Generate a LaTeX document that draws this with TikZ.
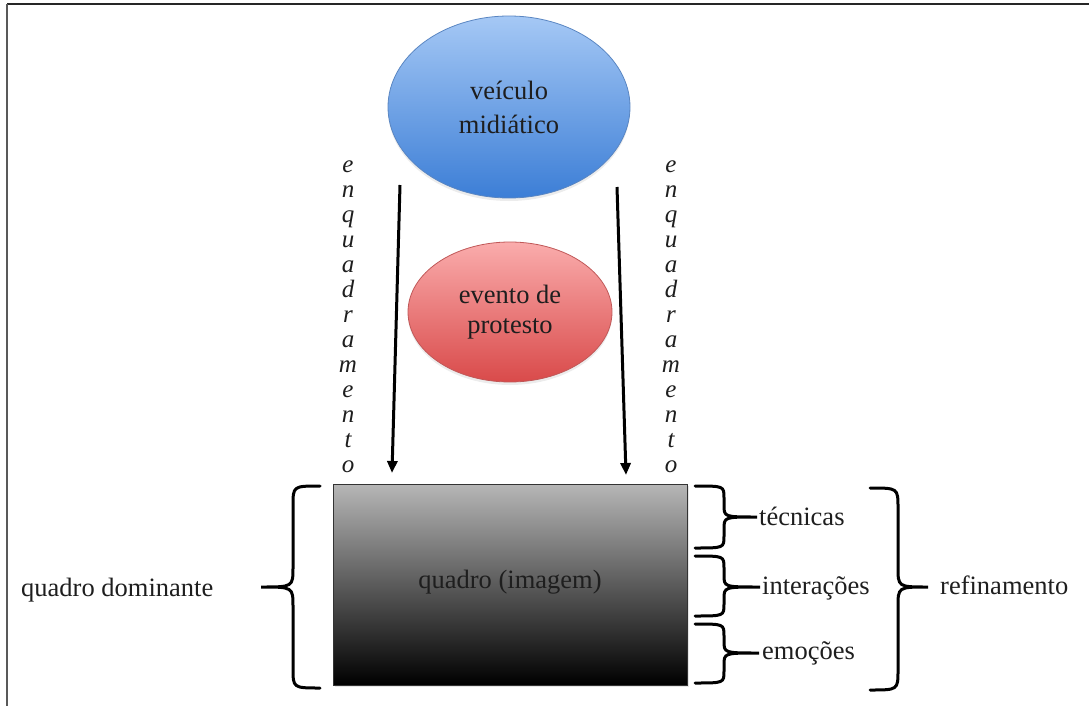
\documentclass[tikz,border=0pt]{standalone}
\usepackage{fontspec}
\setmainfont{Liberation Serif}
\usetikzlibrary{arrows.meta,shapes.geometric,shadows}
\definecolor{bluetop}{HTML}{A5C8F5}
\definecolor{bluebot}{HTML}{3C7ED6}
\definecolor{blueedge}{HTML}{5A86C2}
\definecolor{redtop}{HTML}{FAACAC}
\definecolor{redbot}{HTML}{D94A4A}
\definecolor{rededge}{HTML}{C05858}
\definecolor{txt}{HTML}{1E1E1E}
\definecolor{boxtop}{HTML}{B6B6B6}
\newcommand{\mycurly}[7]{% xe, xs, xt, y1, ym, y2, r
  \draw[bracestyle] (#1,#4) .. controls (#2,#4) and (#2,#4) .. (#2,#4+#7)
    -- (#2,#5-#7) .. controls (#2,#5) and (#2,#5) .. (#3,#5)
    .. controls (#2,#5) and (#2,#5) .. (#2,#5+#7)
    -- (#2,#6-#7) .. controls (#2,#6) and (#2,#6) .. (#1,#6);}
\tikzset{
  lbl/.style={inner sep=0pt, text=txt, font=\fontsize{26.5}{32}\selectfont},
  letter/.style={inner sep=0pt, anchor=base, text=txt, font=\fontsize{25}{25}\selectfont\itshape},
  bracestyle/.style={line width=3pt, black, line cap=round},
  arr/.style={line width=3pt, black, -{Triangle[length=12pt,width=10pt]}},
  frameline/.style={line width=2pt}
}
\begin{document}
\begin{tikzpicture}[x=1pt,y=-1pt]
\useasboundingbox (0,0) rectangle (1089,706);
% frame
\draw[frameline, black!85] (7,4) -- (1089,4);
\draw[frameline, black!65] (7,4) -- (7,706);
% ellipses
\node[ellipse, draw=blueedge, line width=0.8pt, top color=bluetop, bottom color=bluebot,
      minimum width=242pt, minimum height=182pt, inner sep=0pt, align=center,
      drop shadow={opacity=0.15, shadow xshift=0pt, shadow yshift=-3pt},
      text=txt, font=\fontsize{26.5}{34}\selectfont] (veiculo) at (509,107) {veículo\\midiático};
\node[ellipse, draw=rededge, line width=0.8pt, top color=redtop, bottom color=redbot,
      minimum width=204pt, minimum height=140pt, inner sep=0pt, align=center,
      drop shadow={opacity=0.15, shadow xshift=0pt, shadow yshift=-3pt},
      text=txt, font=\fontsize{26.5}{30}\selectfont] (evento) at (510,312) {evento de\\protesto};
% box
\node[rectangle, draw=black!80, line width=0.8pt, top color=boxtop, bottom color=black,
      minimum width=354pt, minimum height=201pt, inner sep=0pt,
      drop shadow={opacity=0.2, shadow xshift=2pt, shadow yshift=-2pt},
      text=txt, font=\fontsize{26.5}{32}\selectfont, text depth=10pt] (quadro) at (510,584.5) {quadro (imagem)};
% arrows
\coordinate (a1s) at (400,185);
\coordinate (a1e) at (392,473);
\coordinate (a2s) at (617,187);
\coordinate (a2e) at (626,475);
\draw[arr] (a1s) -- (a1e);
\draw[arr] (a2s) -- (a2e);
% vertical letters
\foreach \l [count=\i] in {e,n,q,u,a,d,r,a,m,e,n,t,o} {
  \node[letter] (L\i) at (348,147+25*\i) {\l};
  \node[letter] (R\i) at (671,147+25*\i) {\l};
}
% labels
\node[lbl, anchor=base west] (dom) at (21,596) {quadro dominante};
\node[lbl, anchor=base west] (tec) at (759,525) {técnicas};
\node[lbl, anchor=base west] (int) at (762,594) {interações};
\node[lbl, anchor=base west] (emo) at (762,659) {emoções};
\node[lbl, anchor=base west] (ref) at (940,594) {refinamento};
% braces
\mycurly{320}{293}{261}{486}{587}{688}{20}
\mycurly{695}{724}{757}{486}{517}{548}{12}
\mycurly{695}{724}{760}{556}{587}{616}{12}
\mycurly{695}{724}{759}{624}{653}{683}{12}
\mycurly{870}{898}{928}{488}{587}{690}{20}
\end{tikzpicture}
\end{document}
